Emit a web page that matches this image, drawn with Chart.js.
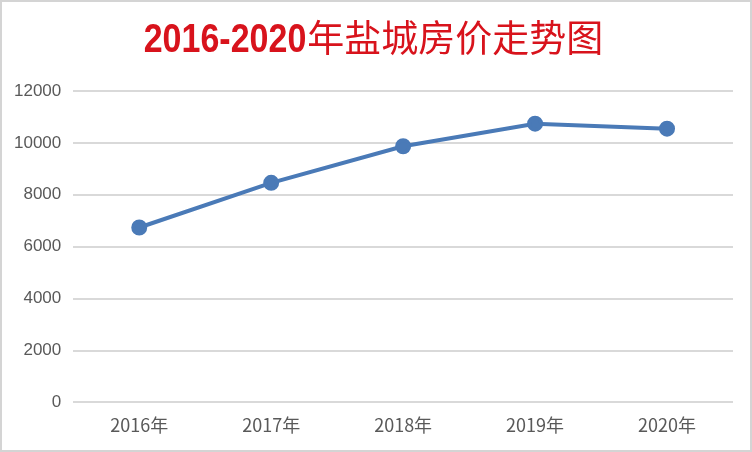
<!DOCTYPE html>
<html>
<head>
<meta charset="utf-8">
<script src="https://cdn.jsdelivr.net/npm/chart.js@4/dist/chart.umd.min.js"></script>
<style>
  body { margin: 0; background: #fff; }
  #wrap { width: 752px; height: 452px; box-sizing: border-box; border: 2px solid #d4d4d4; background: #fff; }
</style>
</head>
<body>
<div id="wrap"><canvas id="myChart" width="748" height="448"></canvas></div>
<script>
// 盐城房价 2016-2020
var years = ["2016年", "2017年", "2018年", "2019年", "2020年"];
var prices = [6740, 8460, 9870, 10740, 10550];
var yTicks = [0, 2000, 4000, 6000, 8000, 10000, 12000];
var titleNum = "2016-2020";
var titleText = "年盐城房价走势图";

// title: bold condensed digits + regular Chinese, like the original
var titlePlugin = {
    id: 'mixedTitle',
    afterDraw: function(chart) {
        var c = chart.ctx;
        var squeeze = 0.85;
        c.save();
        c.fillStyle = "#d8131c";
        c.textBaseline = "alphabetic";
        c.font = "bold 40px 'Liberation Sans', sans-serif";
        var w1 = c.measureText(titleNum).width * squeeze;
        c.font = "37px 'Noto Sans CJK SC', sans-serif";
        var w2 = c.measureText(titleText).width;
        var x = 371 - (w1 + w2) / 2;
        c.fillText(titleText, x + w1 + 1, 50);
        c.font = "bold 40px 'Liberation Sans', sans-serif";
        c.translate(x, 50);
        c.scale(squeeze, 1);
        c.fillText(titleNum, 0, 0);
        c.restore();
    }
};

var ctx = document.getElementById("myChart");

var myLineChart = new Chart(ctx, {
    type: 'line',
    data: {
        labels: years,
        datasets: [{
            data: prices,
            borderColor: "#4a7ab7",
            backgroundColor: "#4a7ab7",
            borderWidth: 4,
            pointRadius: 6,
            pointHoverRadius: 6,
            tension: 0
        }]
    },
    options: {
        responsive: false,
        animation: false,
        layout: { padding: { left: 0, right: 17, top: 89, bottom: 2 } },
        plugins: {
            legend: { display: false },
            tooltip: { enabled: false },
            title: { display: false }
        },
        scales: {
            x: {
                offset: true,
                grid: { display: false, drawTicks: false },
                border: { display: false },
                ticks: {
                    color: "#595959",
                    padding: 12,
                    font: { family: "'Noto Sans CJK SC', sans-serif", size: 18 }
                }
            },
            y: {
                min: 0,
                max: 12000,
                afterBuildTicks: function(axis) {
                    axis.ticks = yTicks.map(function(v) { return { value: v }; });
                },
                grid: { color: "#d9d9d9", lineWidth: 2, drawTicks: false },
                border: { display: false },
                ticks: {
                    color: "#595959",
                    padding: 12,
                    font: { family: "'Liberation Sans', sans-serif", size: 17 },
                    callback: function(v) { return String(v); }
                }
            }
        }
    },
    plugins: [titlePlugin]
});
</script>
</body>
</html>
